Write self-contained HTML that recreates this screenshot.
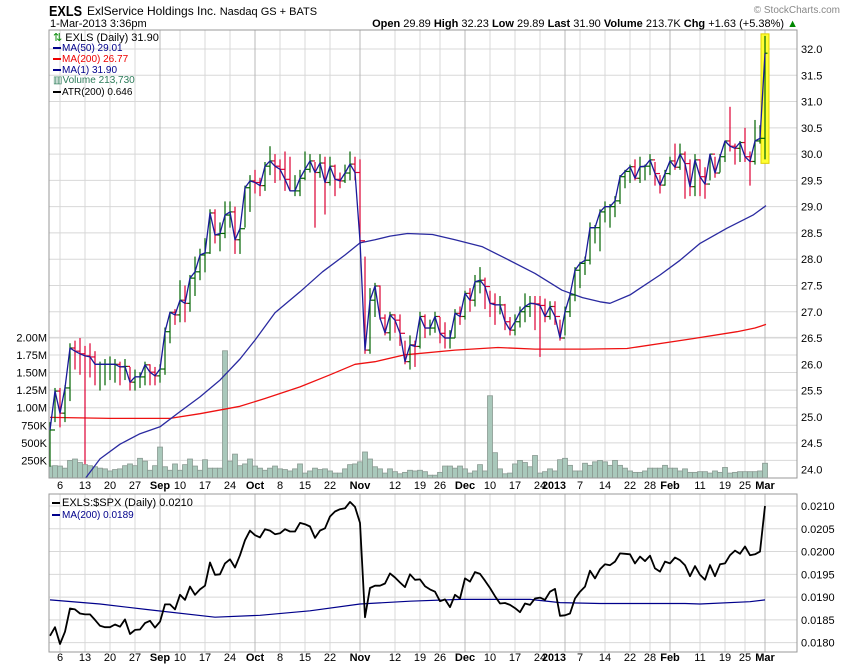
<!DOCTYPE html>
<html><head><meta charset="utf-8"><style>
body{margin:0;background:#fff;width:850px;height:668px;overflow:hidden}
svg{display:block;font-family:"Liberation Sans",sans-serif}
</style></head><body>
<svg id="chart" width="850" height="668" viewBox="0 0 850 668" xmlns="http://www.w3.org/2000/svg">
<defs><clipPath id="pclip"><rect x="49" y="30" width="748" height="448"/></clipPath></defs>
<rect width="850" height="668" fill="#fff"/>
<text x="49" y="16" font-size="15" font-weight="bold" textLength="33" lengthAdjust="spacingAndGlyphs">EXLS</text>
<text x="87" y="15" font-size="12">ExlService Holdings Inc.  <tspan font-size="11">Nasdaq GS + BATS</tspan></text>
<text x="50" y="27" font-size="11">1-Mar-2013 3:36pm</text>
<text x="840" y="13" font-size="10" fill="#888" text-anchor="end">© StockCharts.com</text>
<text x="798" y="27" font-size="11" text-anchor="end"><tspan font-weight="bold">Open</tspan> 29.89  <tspan font-weight="bold">High</tspan> 32.23  <tspan font-weight="bold">Low</tspan> 29.89  <tspan font-weight="bold">Last</tspan> 31.90  <tspan font-weight="bold">Volume</tspan> 213.7K  <tspan font-weight="bold">Chg</tspan> +1.63 (+5.38%) <tspan fill="#080">▲</tspan></text>
<g id="grid"></g>
<g id="marks" clip-path="url(#pclip)"></g>
<g id="rmarks"></g>
<g id="labels" font-size="11"></g>
<rect x="49" y="30" width="748" height="448" fill="none" stroke="#999"/>
<rect x="49" y="494" width="748" height="158" fill="none" stroke="#999"/>
<g font-size="11">
<text x="53" y="41"><tspan fill="#080">⇅</tspan> EXLS (Daily) 31.90</text>
<rect x="53" y="47" width="8" height="2" fill="#00008b"/><text x="62" y="51" fill="#00008b" font-size="10">MA(50) 29.01</text>
<rect x="53" y="58" width="8" height="2" fill="#e00"/><text x="62" y="62" fill="#e00" font-size="10">MA(200) 26.77</text>
<rect x="53" y="69" width="8" height="2" fill="#00008b"/><text x="62" y="73" fill="#00008b" font-size="10">MA(1) 31.90</text>
<text x="53" y="83" fill="#2e7d5b" font-size="10">▥Volume 213,730</text>
<rect x="53" y="91" width="8" height="2" fill="#000"/><text x="62" y="95" font-size="10">ATR(200) 0.646</text>
</g>
<g font-size="11">
<rect x="52" y="502" width="8" height="2" fill="#000"/><text x="62" y="506">EXLS:$SPX (Daily) 0.0210</text>
<rect x="52" y="514" width="8" height="2" fill="#00008b"/><text x="62" y="518" fill="#00008b" font-size="10">MA(200) 0.0189</text>
</g>
</svg>
<script>
const closes=[24.75,25.49,25.07,25.55,26.31,26.25,26.2,26.16,26.14,26.0,26.0,26.0,26.0,26.0,25.95,25.96,25.66,25.76,25.76,25.99,25.85,25.78,25.91,26.62,26.99,26.94,27.22,27.16,27.64,27.76,28.08,28.12,28.88,28.46,28.49,28.84,28.9,28.37,28.58,29.36,29.49,29.46,29.4,29.77,29.87,29.77,29.71,29.52,29.3,29.3,29.54,29.71,29.87,29.65,29.83,29.46,29.77,29.52,29.49,29.64,29.81,29.65,28.35,26.27,27.22,27.49,26.88,26.6,26.94,26.84,26.59,26.05,26.37,26.34,26.91,26.69,26.69,26.91,26.59,26.5,26.5,26.97,26.91,27.35,27.22,27.57,27.6,27.48,27.16,27.13,27.13,26.81,26.65,26.81,27.0,27.1,27.16,27.15,27.12,26.91,27.1,26.91,26.5,27.0,27.32,27.79,27.92,27.98,28.6,28.6,28.9,29.0,29.0,29.11,29.57,29.67,29.76,29.54,29.76,29.77,29.89,29.63,29.41,29.63,29.87,29.75,30.0,29.82,29.38,29.89,29.57,29.43,30.0,29.64,29.95,30.25,30.15,30.11,30.22,29.95,29.86,30.25,30.3,31.92];
const highs=[24.9,25.55,25.55,25.6,26.4,26.45,26.5,26.35,26.4,26.25,26.05,26.1,26.15,26.1,26.05,26.1,25.95,25.9,25.85,26.05,26.0,25.95,26.0,26.7,27.0,27.05,27.6,27.5,27.7,28.05,28.2,28.4,28.95,28.95,28.7,29.1,29.1,29.0,28.6,29.4,29.6,29.7,29.55,29.85,30.15,30.0,29.9,30.05,29.95,29.6,29.7,30.05,30.0,29.85,30.0,29.95,29.95,29.8,29.65,29.8,30.05,29.95,29.9,28.05,27.45,27.55,27.5,26.95,27.0,26.95,26.95,26.45,26.55,26.45,27.0,26.95,26.85,27.0,26.9,26.8,26.65,27.05,27.1,27.4,27.45,27.7,27.85,27.65,27.4,27.35,27.3,27.15,26.9,26.95,27.1,27.35,27.3,27.3,27.3,27.25,27.2,27.2,26.85,27.1,27.35,27.85,27.95,28.05,28.7,28.65,28.95,29.1,29.05,29.2,29.6,29.7,29.8,29.9,29.95,29.8,30.0,29.85,29.6,29.7,29.95,30.2,30.2,30.05,29.9,30.0,29.9,29.75,30.0,29.95,30.0,30.25,30.9,30.2,30.25,30.5,30.05,30.65,30.55,32.25];
const lows=[24.05,24.9,24.8,24.9,25.3,25.9,25.8,24.1,25.75,25.6,25.5,25.6,25.7,25.65,25.6,25.7,25.5,25.5,25.55,25.6,25.6,25.6,25.65,25.8,26.4,26.75,26.8,26.8,27.0,27.3,27.6,27.75,28.1,28.3,28.15,28.4,28.6,28.1,28.1,28.6,28.9,29.25,29.2,29.3,29.6,29.45,29.5,29.3,29.3,29.2,29.2,29.5,29.65,28.6,29.55,28.85,29.4,29.2,29.35,29.45,29.5,29.5,28.3,26.2,26.2,26.9,26.85,26.55,26.45,26.6,26.35,26.0,25.9,25.95,26.3,26.5,26.55,26.6,26.4,26.3,26.3,26.5,26.75,26.85,27.0,27.1,27.35,27.05,26.9,26.75,26.95,26.65,26.55,26.55,26.7,26.8,26.9,26.65,26.14,26.8,26.85,26.75,26.45,26.55,26.9,27.2,27.45,27.7,27.9,28.3,28.15,28.7,28.6,28.8,29.05,29.35,29.45,29.5,29.45,29.5,29.6,29.4,29.25,29.4,29.6,29.7,29.7,29.15,29.2,29.2,29.2,29.15,29.5,29.55,29.65,29.85,30.05,29.8,29.85,29.85,29.4,29.8,30.2,29.9];
const volumes=[0.17,0.175,0.17,0.14,0.25,0.27,0.22,0.19,0.175,0.16,0.14,0.13,0.1,0.12,0.13,0.175,0.2,0.175,0.28,0.24,0.11,0.175,0.44,0.16,0.11,0.2,0.11,0.19,0.27,0.17,0.11,0.26,0.14,0.14,0.14,1.81,0.24,0.34,0.175,0.2,0.27,0.17,0.14,0.11,0.14,0.17,0.13,0.12,0.1,0.13,0.2,0.07,0.1,0.14,0.12,0.13,0.1,0.07,0.07,0.13,0.19,0.2,0.23,0.37,0.27,0.16,0.13,0.07,0.13,0.09,0.06,0.08,0.11,0.1,0.11,0.09,0.04,0.04,0.08,0.17,0.17,0.14,0.17,0.13,0.07,0.1,0.19,0.1,1.17,0.36,0.13,0.06,0.07,0.2,0.25,0.22,0.16,0.32,0.07,0.09,0.13,0.1,0.26,0.28,0.18,0.1,0.1,0.21,0.18,0.23,0.25,0.23,0.18,0.25,0.18,0.14,0.1,0.08,0.08,0.1,0.14,0.14,0.14,0.18,0.14,0.14,0.1,0.13,0.08,0.08,0.09,0.09,0.07,0.1,0.08,0.15,0.07,0.08,0.09,0.09,0.09,0.09,0.1,0.21];
const ratios=[0.01815,0.01834,0.01797,0.01824,0.01875,0.01873,0.01864,0.01862,0.01862,0.0185,0.01837,0.01834,0.01834,0.0184,0.01835,0.01851,0.01819,0.01828,0.01829,0.01843,0.01848,0.01833,0.01846,0.01884,0.01884,0.01873,0.01905,0.01894,0.01923,0.01905,0.01917,0.01925,0.01976,0.01949,0.0195,0.01974,0.01983,0.01965,0.01992,0.02025,0.02046,0.02036,0.02031,0.02049,0.02046,0.02038,0.0204,0.02049,0.02044,0.02044,0.02063,0.0206,0.02055,0.0203,0.02046,0.02051,0.02077,0.02088,0.02093,0.02095,0.02109,0.02098,0.02063,0.01856,0.0192,0.01925,0.01925,0.0193,0.01952,0.01943,0.01932,0.01922,0.0195,0.01938,0.01939,0.01924,0.01917,0.01912,0.01891,0.01895,0.01878,0.01905,0.01897,0.01941,0.01934,0.01955,0.01951,0.01936,0.0192,0.01902,0.01886,0.01887,0.01883,0.01876,0.01867,0.01886,0.01883,0.01897,0.01899,0.01894,0.01912,0.01918,0.01859,0.0186,0.01864,0.01897,0.01912,0.01923,0.01958,0.01941,0.01961,0.01972,0.0197,0.01978,0.01996,0.01995,0.01994,0.01974,0.01989,0.01979,0.01991,0.01963,0.01956,0.01978,0.01974,0.01987,0.01981,0.0197,0.01946,0.01968,0.01949,0.01938,0.0197,0.01946,0.01972,0.01974,0.01992,0.02002,0.01995,0.02011,0.01992,0.01994,0.02,0.021];
const ma50Idx=[7,10,14,18,22,26,30,34,38,41,45,50,54.5,59,62,65,68,71.5,76.5,81,86.4,91,97,102.4,106.5,110,112,116,122,126,130,135.4,140.6,143.2];
const ma50Val=[23.82,24.2,24.48,24.68,24.81,25.1,25.38,25.7,26.1,26.46,26.98,27.38,27.76,28.08,28.31,28.37,28.44,28.49,28.47,28.37,28.24,28.02,27.73,27.41,27.27,27.19,27.16,27.32,27.7,27.98,28.3,28.59,28.84,29.02];
const ma200Idx=[0,12,24,30,38,43,50,56,61,65,71,81,89.6,97,107,115.4,128.6,137.4,141,143.2];
const ma200Val=[24.99,24.97,24.97,25.06,25.2,25.35,25.57,25.8,26.0,26.05,26.18,26.27,26.32,26.29,26.29,26.3,26.49,26.62,26.69,26.76];
const rmaIdx=[0,10,20,33,42,52,62,72,82,96,102,110,127,130,140,143];
const rmaVal=[0.01894,0.01885,0.01872,0.01856,0.0186,0.0187,0.01885,0.01891,0.01895,0.01895,0.01888,0.01886,0.01886,0.01885,0.0189,0.01894];
const priceTicks=[24.0,24.5,25.0,25.5,26.0,26.5,27.0,27.5,28.0,28.5,29.0,29.5,30.0,30.5,31.0,31.5,32.0];
const volTicks=[0.25,0.5,0.75,1.0,1.25,1.5,1.75,2.0];
const volTickLabels=["250K","500K","750K","1.00M","1.25M","1.50M","1.75M","2.00M"];
const ratioTicks=[0.018,0.0185,0.019,0.0195,0.02,0.0205,0.021];
const dateIdx=[2,7,12,17,22,26,31,36,41,46,51,56,62,69,74,78,83,88,93,98,103,106,111,116,120,124,130,135,139,143];
const dateLabels=["6","13","20","27","Sep","10","17","24","Oct","8","15","22","Nov","12","19","26","Dec","10","17","24","2013","7","14","22","28","Feb","11","19","25","Mar"];

const NS="http://www.w3.org/2000/svg";
const X=i=>50+5*i;
const Y=p=>49+(32-p)*52.55;
const VY=v=>478-v*70.3;
const RY=r=>506+(0.021-r)*45560;
function mk(tag,attrs,parent){const e=document.createElementNS(NS,tag);for(const k in attrs)e.setAttribute(k,attrs[k]);parent.appendChild(e);return e;}
const grid=document.getElementById('grid'),marks=document.getElementById('marks'),rmarks=document.getElementById('rmarks'),labels=document.getElementById('labels');

priceTicks.forEach(p=>{
  if(p>=26.5){const l=mk('line',{x1:49,x2:797,y1:Y(p),y2:Y(p),stroke:'#d8d8d8'},grid);
  
  }
  const t=mk('text',{x:801,y:Y(p)+4},labels);t.textContent=p.toFixed(1);
  
  
});
volTicks.forEach((v,k)=>{
  const l=mk('line',{x1:49,x2:797,y1:VY(v),y2:VY(v),stroke:'#d8d8d8'},grid);
  
  
  const t=mk('text',{x:47,y:VY(v)+4,'text-anchor':'end'},labels);t.textContent=volTickLabels[k];
  
  
});
ratioTicks.forEach(r=>{
  const l=mk('line',{x1:49,x2:797,y1:RY(r),y2:RY(r),stroke:'#d8d8d8'},grid);
  
  
  const t=mk('text',{x:801,y:RY(r)+4},labels);t.textContent=r.toFixed(4);
  
  
});
dateIdx.forEach((d,k)=>{
  const lab=dateLabels[k];const major=isNaN(+lab)||lab==="2013";
  [[30,478],[494,652]].forEach(([a,b])=>{
    const l=mk('line',{x1:X(d),x2:X(d),y1:a,y2:b,stroke:major?'#b8b8b8':'#d8d8d8'},grid);
    
    
  });
  [489,661].forEach(yy=>{
    const attrs={x:X(d),y:yy,'text-anchor':'middle','font-weight':major?'bold':'normal'};
    if(lab==="2013"){attrs.x=X(d)-23;attrs['text-anchor']='start';attrs.textLength='24';attrs.lengthAdjust='spacingAndGlyphs';}
    const t=mk('text',attrs,labels);
    t.textContent=lab;
    
    
  });
});
volumes.forEach((v,i)=>{
  const r=mk('rect',{x:X(i)-2.5,y:VY(v),width:5,height:v*70.3,fill:'#a9c8bb',stroke:'#8a9a92','stroke-width':0.8},marks);
  
  
});
const hl=mk('rect',{x:X(closes.length-1)-4,y:Y(highs[highs.length-1])-2,width:8,height:Y(lows[lows.length-1])-Y(highs[highs.length-1])+6,fill:'#ffff33',stroke:'#e0d000'},marks);


function pathLine(idx,vals,fy,color,w,name,parent){
  let d='';idx.forEach((ix,k)=>{d+=(k?'L':'M')+X(ix).toFixed(1)+','+fy(vals[k]).toFixed(1);});
  const p=mk('path',{d:d,fill:'none',stroke:color,'stroke-width':w,'stroke-linejoin':'round'},parent||marks);
  
  
}
pathLine(ma200Idx,ma200Val,Y,'#ee1111',1.3,'ma200-line');
pathLine(ma50Idx,ma50Val,Y,'#2a2aa0',1.3,'ma50-line');
closes.forEach((c,i)=>{
  const prev=i?closes[i-1]:c;const col=c>=prev?'#006400':'#dd0033';
  const g=mk('g',{stroke:col,'stroke-width':1.2},marks);
  
  
  mk('line',{x1:X(i),x2:X(i),y1:Y(highs[i]),y2:Y(lows[i])},g);
  mk('line',{x1:X(i)-2.5,x2:X(i),y1:Y(prev),y2:Y(prev)},g);
  mk('line',{x1:X(i),x2:X(i)+2.5,y1:Y(c),y2:Y(c)},g);
});
pathLine(closes.map((c,i)=>i),closes,Y,'#1a1a9a',1.3,'ma1-close-line');
pathLine(rmaIdx,rmaVal,RY,'#00008b',1.2,'ratio-ma200-line',rmarks);
pathLine(ratios.map((r,i)=>i),ratios,RY,'#000',1.8,'ratio-line',rmarks);
</script>
</body></html>
